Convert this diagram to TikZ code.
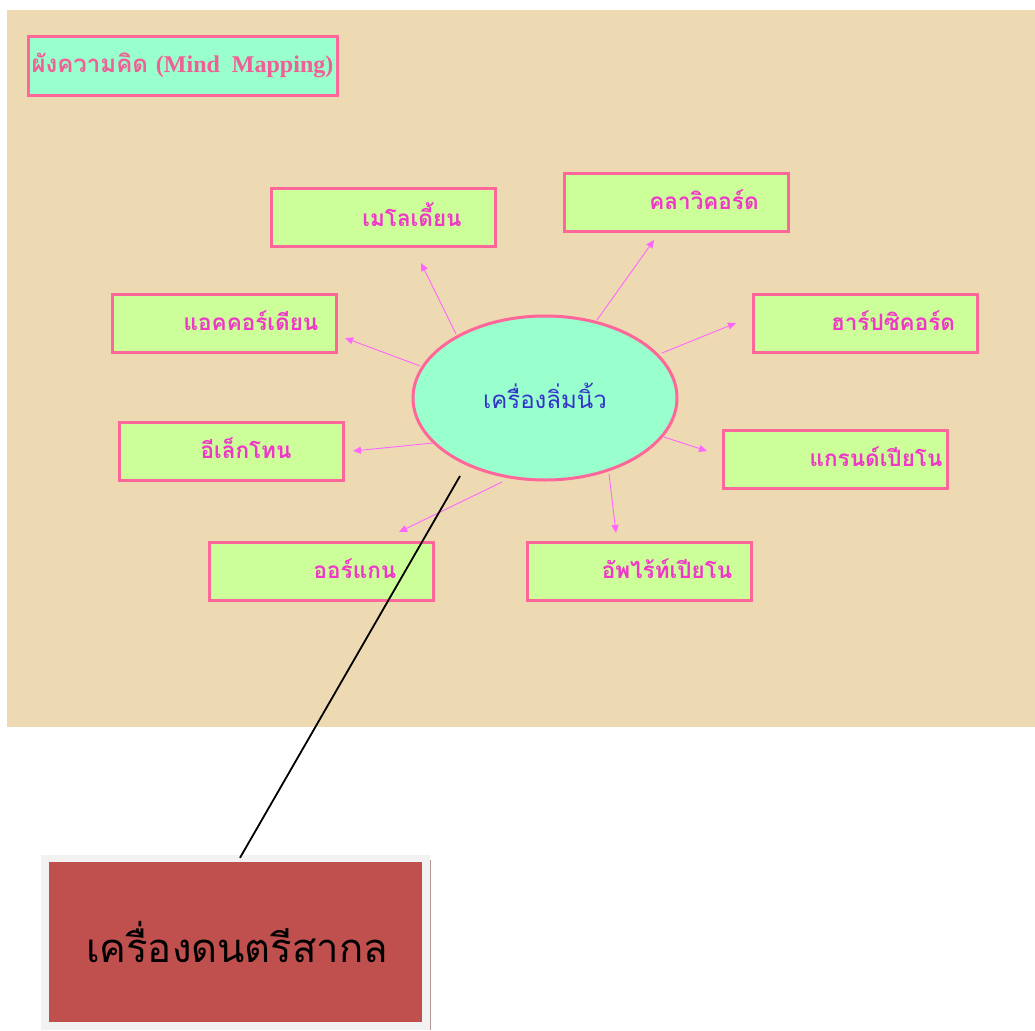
\documentclass[tikz,border=0pt]{standalone}
\usepackage{fontspec}
\newfontfamily\thaifont[Script=Thai]{Loma}
\newfontfamily\latserif{Liberation Serif}
\usetikzlibrary{shapes.geometric,arrows.meta,calc}
\definecolor{bgtan}{RGB}{238,218,178}
\definecolor{mint}{RGB}{153,255,204}
\definecolor{lime}{RGB}{204,255,153}
\definecolor{pinkb}{RGB}{255,102,153}
\definecolor{magtext}{RGB}{240,55,200}
\definecolor{titletext}{RGB}{240,95,150}
\definecolor{arrc}{RGB}{255,102,255}
\definecolor{bluet}{RGB}{51,51,204}
\definecolor{redbox}{RGB}{192,80,77}
\definecolor{framegray}{RGB}{242,242,242}
\definecolor{shadowc}{RGB}{180,150,150}
\tikzset{
  itembox/.style={draw=pinkb, line width=3pt, fill=lime, minimum width=224pt, minimum height=58pt, inner sep=0pt},
  itemtext/.style={text=magtext, font=\thaifont\bfseries\fontsize{22.5}{26}\selectfont, inner sep=0pt},
  arr/.style={draw=arrc, line width=0.9pt, -{Triangle[length=8pt,width=7pt]}},
}
\begin{document}
\begin{tikzpicture}[x=1pt,y=-1pt]
\useasboundingbox (0,0) rectangle (1035,1030);
\fill[white] (0,0) rectangle (1035,1030);
\fill[bgtan] (7,10) rectangle (1035,727);

% title
\node[draw=pinkb, line width=3pt, fill=mint, minimum width=309pt, minimum height=59pt, inner sep=0pt] (title) at (182.5,66.5) {};
\node[text=titletext, inner sep=0pt] (titlet) at (182.5,65) {\thaifont\bfseries\fontsize{24}{28}\selectfont ผังความคิด {\latserif\bfseries\fontsize{24}{28}\selectfont (Mind~~Mapping)}};

% centre ellipse
\node[ellipse, draw=pinkb, line width=3pt, fill=mint, minimum width=264pt, minimum height=164pt, inner sep=0pt] (c) at (545,398) {};
\node[text=bluet, font=\thaifont\fontsize{24}{28}\selectfont, inner sep=0pt] (ct) at (545,396) {เครื่องลิ่มนิ้ว};

% item boxes
\node[itembox] (b1) at (383,217) {};
\node[itemtext] (t1) at (412,214.5) {เมโลเดี้ยน};
\node[itembox] (b2) at (676.5,202) {};
\node[itemtext] (t2) at (704,199.5) {คลาวิคอร์ด};
\node[itembox] (b3) at (224.5,323) {};
\node[itemtext] (t3) at (251,320.5) {แอคคอร์เดียน};
\node[itembox] (b4) at (865,323) {};
\node[itemtext] (t4) at (893,320.5) {ฮาร์ปซิคอร์ด};
\node[itembox] (b5) at (231.5,451) {};
\node[itemtext] (t5) at (246,448.5) {อีเล็กโทน};
\node[itembox] (b6) at (835,459) {};
\node[itemtext] (t6) at (876,456.5) {แกรนด์เปียโน};
\node[itembox] (b7) at (321.5,571) {};
\node[itemtext] (t7) at (355,568.5) {ออร์แกน};
\node[itembox] (b8) at (639,571) {};
\node[itemtext] (t8) at (667,568.5) {อัพไร้ท์เปียโน};

% arrow ends
\coordinate (e1) at (421,263);
\coordinate (e2) at (654,240);
\coordinate (e3) at (345,338);
\coordinate (e4) at (736,323);
\coordinate (e5) at (353,451);
\coordinate (e6) at (707,451);
\coordinate (e7) at (399,532);
\coordinate (e8) at (616,533);
\coordinate (s1) at (456,334);
\coordinate (s2) at (597,320);
\coordinate (s3) at (420,366);
\coordinate (s4) at (662,353);
\coordinate (s5) at (433,443);
\coordinate (s6) at (664,437);
\coordinate (s7) at (502,482);
\coordinate (s8) at (609,474);
\foreach \i in {1,...,8} { \draw[arr] (s\i) -- (e\i); }

% bottom box
\fill[framegray] (41,855) rectangle (430,1030);
\draw[shadowc, line width=1.5pt] (430.5,860) -- (430.5,1030);
\node[fill=redbox, minimum width=373pt, minimum height=160pt, inner sep=0pt] (bot) at (235.5,942) {};
\node[text=black, font=\thaifont\fontsize{40}{46}\selectfont, inner sep=0pt] (bott) at (237,942) {เครื่องดนตรีสากล};

% black connector
\coordinate (lstart) at (460,476);
\draw[black, line width=1.8pt] (lstart) -- ($(bot.north)+(4.5,-4)$);
\end{tikzpicture}
\end{document}
